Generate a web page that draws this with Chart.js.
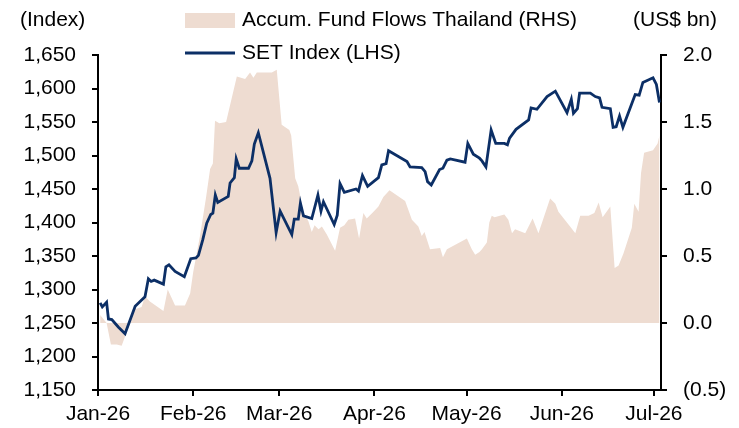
<!DOCTYPE html>
<html>
<head>
<meta charset="utf-8">
<script src="https://cdn.jsdelivr.net/npm/chart.js@4"></script>
<style>
  body { margin: 0; background: #fff; }
  #wrap { width: 739px; height: 428px; position: relative; }
</style>
</head>
<body>
<div id="wrap"><canvas id="myChart"></canvas></div>
<script>
// days counted from 1 Jan 2026
var tickDays = [0, 31, 59, 90, 120, 151, 181];
var tickLabels = ['Jan-26', 'Feb-26', 'Mar-26', 'Apr-26', 'May-26', 'Jun-26', 'Jul-26'];

// SET Index (LHS)
var setDays = [0.7, 1.4, 2.8, 3.4, 4.5, 6.6, 8.8, 12.1, 13.7, 15.3, 16.4, 17.3, 18.3, 21.3, 22.1, 23.1, 25.1, 28.1,
  30.2, 31.9, 32.7, 34.1, 35.4, 36.7, 37.4, 38.2, 39.0, 42.4, 43.0, 44.4, 45.0, 46.0, 49.0, 50.1, 50.9, 52.2,
  56.0, 58.0, 59.3, 63.1, 63.9, 65.2, 65.9, 66.9, 69.6, 71.6, 72.6, 73.4, 76.9, 77.9, 78.8, 80.2, 84.0, 84.8,
  86.1, 87.8, 91.3, 92.4, 93.8, 94.6, 100.6, 101.6, 105.4, 106.5, 107.3, 108.5, 111.2, 112.3, 113.6, 114.7,
  119.5, 120.4, 122.2, 124.2, 125.0, 126.3, 128.0, 129.5, 132.3, 133.3, 134.0, 136.1, 140.2, 141.0, 142.9,
  146.2, 148.9, 152.7, 154.1, 154.8, 156.1, 156.8, 160.3, 161.9, 163.3, 164.1, 166.8, 167.7, 168.7, 169.8,
  170.9, 174.9, 176.2, 177.4, 180.7, 181.8, 182.8];
var setValues = [1280, 1274, 1281, 1256, 1255, 1244, 1234, 1275, 1282, 1289, 1316, 1312, 1314, 1308, 1334, 1337, 1327, 1319,
  1346, 1347, 1351, 1374, 1399, 1412, 1414, 1441, 1430, 1439, 1459, 1467, 1495, 1481, 1481, 1492, 1517, 1534,
  1466, 1385, 1417, 1382, 1405, 1405, 1429, 1410, 1406, 1441, 1417, 1431, 1397, 1411, 1458, 1445, 1450, 1447,
  1470, 1454, 1467, 1486, 1488, 1507, 1491, 1483, 1482, 1476, 1461, 1456, 1479, 1481, 1493, 1495,
  1490, 1518, 1502, 1496, 1492, 1483, 1538, 1518, 1518, 1516, 1526, 1539, 1553, 1571, 1569,
  1588, 1596, 1564, 1584, 1563, 1570, 1593, 1593, 1588, 1586, 1572, 1570, 1542, 1543, 1559,
  1542, 1591, 1590, 1609, 1616, 1606, 1579];

// Accum. Fund Flows Thailand, US$ bn (RHS)
var flowDays = [0.7, 2.8, 4.2, 6.1, 7.7, 9.3, 10.7, 11.8, 14.2, 15.3, 16.9, 21.3, 22.7, 25.1, 28.3, 30.0, 31.0,
  33.2, 35.2, 36.5, 37.4, 38.1, 39.5, 41.7, 45.2, 47.9, 49.5, 50.6, 51.7, 56.6, 58.2, 59.8, 62.3, 62.9,
  64.2, 65.2, 66.9, 68.5, 69.6, 70.5, 71.8, 72.9, 74.5, 77.2, 78.8, 80.2, 81.5, 83.7, 85.0, 86.4, 87.5,
  89.7, 91.3, 92.9, 94.9, 100.0, 102.2, 104.3, 105.4, 106.3, 108.1, 111.4, 112.3, 113.6, 120.1, 121.7,
  122.8, 124.2, 125.0, 126.6, 127.4, 128.2, 129.1, 132.3, 133.6, 134.8, 135.8, 139.1, 141.5, 143.4,
  147.2, 148.9, 149.9, 153.7, 155.4, 157.0, 159.7, 161.6, 163.0, 164.3, 166.8, 168.2, 169.5, 171.1,
  173.8, 174.6, 176.0, 176.8, 177.8, 180.7, 182.2, 182.8];
var flowValues = [0.06, 0.0, -0.16, -0.16, -0.17, -0.07, 0.05, 0.10, 0.12, 0.20, 0.16, 0.09, 0.25, 0.13, 0.13, 0.22, 0.38,
  0.65, 0.94, 1.15, 1.19, 1.51, 1.49, 1.50, 1.84, 1.82, 1.87, 1.83, 1.87, 1.87, 1.89, 1.48, 1.44, 1.40,
  1.08, 1.02, 0.82, 0.76, 0.68, 0.73, 0.70, 0.72, 0.66, 0.54, 0.71, 0.73, 0.77, 0.78, 0.63, 0.82, 0.78,
  0.83, 0.87, 0.94, 0.99, 0.91, 0.77, 0.72, 0.65, 0.68, 0.55, 0.56, 0.49, 0.55, 0.63, 0.55,
  0.51, 0.53, 0.55, 0.60, 0.75, 0.80, 0.79, 0.81, 0.77, 0.67, 0.70, 0.67, 0.78, 0.67,
  0.93, 0.89, 0.83, 0.72, 0.67, 0.80, 0.80, 0.82, 0.90, 0.79, 0.87, 0.41, 0.43, 0.52,
  0.71, 0.89, 0.83, 1.12, 1.27, 1.29, 1.34, 1.40];

var lineColor = '#0c2f66';
var areaColor = '#eedcd1';
var font = { family: "'Liberation Sans', Arial, sans-serif", size: 21 };

var setPoints = setDays.map((d, i) => ({ x: d, y: setValues[i] }));
var flowPoints = flowDays.map((d, i) => ({ x: d, y: flowValues[i] }));

var labelsPlugin = {
    id: 'labelsPlugin',
    afterDraw(chart) {
        var ctx = chart.ctx;
        ctx.save();
        ctx.font = font.size + 'px ' + font.family;
        ctx.fillStyle = '#000';
        ctx.textBaseline = 'middle';
        ctx.textAlign = 'left';
        ctx.fillText('(Index)', 20, 20);
        ctx.fillText('(US$ bn)', 633, 20);

        ctx.fillStyle = areaColor;
        ctx.fillRect(185, 13, 50, 15);
        ctx.fillStyle = '#000';
        ctx.fillText('Accum. Fund Flows Thailand (RHS)', 242, 20);

        ctx.strokeStyle = lineColor;
        ctx.lineWidth = 2.8;
        ctx.beginPath();
        ctx.moveTo(185, 53);
        ctx.lineTo(235, 53);
        ctx.stroke();
        ctx.fillText('SET Index (LHS)', 242, 53);
        ctx.restore();
    }
};

var ctx = document.getElementById('myChart');
var myChart = new Chart(ctx, {
    type: 'line',
    data: {
        datasets: [{
            label: 'SET Index (LHS)',
            data: setPoints,
            yAxisID: 'y',
            borderColor: lineColor,
            borderWidth: 2.8,
            pointRadius: 0,
            tension: 0,
            fill: false,
            order: 0
        }, {
            label: 'Accum. Fund Flows Thailand (RHS)',
            data: flowPoints,
            yAxisID: 'y1',
            borderWidth: 0,
            borderColor: areaColor,
            backgroundColor: areaColor,
            pointRadius: 0,
            tension: 0,
            fill: 'origin',
            order: 1
        }]
    },
    options: {
        responsive: true,
        maintainAspectRatio: false,
        animation: false,
        layout: { padding: { top: 55, left: 0, right: 0, bottom: 0 } },
        plugins: {
            legend: { display: false },
            tooltip: { enabled: false }
        },
        scales: {
            x: {
                type: 'linear',
                min: 0,
                max: 183.3,
                afterBuildTicks: s => { s.ticks = tickDays.map(v => ({ value: v })); },
                afterFit: s => { s.height = 38; },
                ticks: {
                    autoSkip: false,
                    maxRotation: 0,
                    padding: 6,
                    color: '#000',
                    font: font,
                    callback: (v) => tickLabels[tickDays.indexOf(v)]
                },
                grid: { drawOnChartArea: false, color: '#000', lineWidth: 2, tickLength: 6 },
                border: { display: true, color: '#000', width: 2 }
            },
            y: {
                position: 'left',
                min: 1150,
                max: 1650,
                afterFit: s => { s.width = 98; },
                ticks: {
                    stepSize: 50,
                    padding: 16,
                    color: '#000',
                    font: font,
                    callback: v => v.toLocaleString('en-US')
                },
                grid: { drawOnChartArea: false, color: '#000', lineWidth: 2, tickLength: 6 },
                border: { display: true, color: '#000', width: 2 }
            },
            y1: {
                position: 'right',
                min: -0.5,
                max: 2.0,
                afterFit: s => { s.width = 78; },
                ticks: {
                    stepSize: 0.5,
                    padding: 16,
                    color: '#000',
                    font: font,
                    callback: v => v < 0 ? '(' + Math.abs(v).toFixed(1) + ')' : v.toFixed(1)
                },
                grid: { drawOnChartArea: false, color: '#000', lineWidth: 2, tickLength: 6 },
                border: { display: true, color: '#000', width: 2 }
            }
        }
    },
    plugins: [labelsPlugin]
});
</script>
</body>
</html>
